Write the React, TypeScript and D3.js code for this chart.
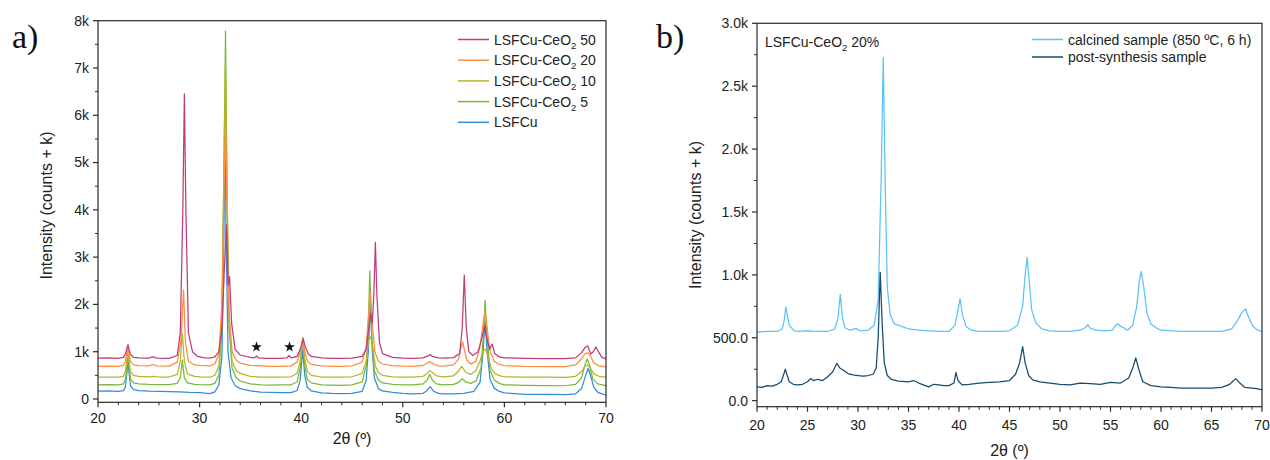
import React from "react";
import * as d3 from "d3";

type Pt = [number, number];

// ---------- Panel a data (2θ, counts + k) ----------
const lsfcu: Pt[] = [[20,165],[21,170],[22,160],[22.5,175],[22.7,260],[22.85,560],[22.95,850],[23.05,560],[23.2,280],[23.5,200],[24,175],[25,165],[26,160],[27,155],[28,150],[29,140],[30,135],[31,115],[31.5,150],[31.9,300],[32.2,900],[32.4,3500],[32.5,6100],[32.6,3500],[32.8,1000],[33.1,450],[33.5,280],[34,220],[35,170],[36,145],[37,140],[38,135],[39,135],[39.6,180],[39.9,400],[40.15,1040],[40.35,500],[40.6,250],[41,170],[42,130],[43,120],[44,115],[45,120],[46,160],[46.4,400],[46.6,1000],[46.8,2000],[47.0,1000],[47.2,450],[47.6,220],[48,170],[49,140],[50,120],[51,110],[52,120],[52.4,180],[52.7,260],[53,170],[53.5,120],[54,110],[55,110],[56,120],[57,160],[57.6,350],[57.9,1000],[58.1,1650],[58.3,1000],[58.6,400],[59,230],[59.5,160],[60,130],[62,100],[64,95],[66,90],[67,110],[67.6,220],[68.0,500],[68.25,650],[68.5,480],[68.8,250],[69.2,140],[70,80]];

const ceo2_5: Pt[] = [[20,300],[21,305],[22,300],[22.5,320],[22.7,420],[22.85,700],[22.95,950],[23.05,700],[23.2,420],[23.5,340],[24,320],[25,310],[26,305],[27,305],[27.8,330],[28.1,450],[28.3,820],[28.5,450],[28.8,340],[29.5,310],[30,305],[31,300],[31.5,330],[31.9,500],[32.2,1500],[32.4,5000],[32.55,7780],[32.7,4500],[32.9,1500],[33.2,650],[33.6,450],[34,380],[35,320],[36,300],[37,295],[38,300],[39,300],[39.6,360],[39.9,650],[40.15,1300],[40.35,700],[40.6,420],[41,340],[42,300],[43,295],[44,290],[45,300],[46,360],[46.4,700],[46.6,1500],[46.75,2710],[46.95,1300],[47.2,600],[47.6,400],[48,340],[49,310],[50,300],[51,300],[52,320],[52.4,400],[52.65,520],[52.9,400],[53.3,320],[54,300],[55,310],[55.5,350],[55.85,430],[56.2,360],[56.7,330],[57.2,380],[57.7,650],[57.95,1400],[58.1,2090],[58.3,1300],[58.6,600],[59,400],[59.5,330],[60,300],[62,290],[64,285],[66,280],[67,310],[67.6,450],[67.9,700],[68.15,850],[68.4,700],[68.7,420],[69.2,320],[70,280]];

const ceo2_10: Pt[] = [[20,460],[21,465],[22,460],[22.5,480],[22.7,580],[22.85,850],[22.95,1000],[23.05,820],[23.2,580],[23.5,500],[24,480],[25,470],[25.5,480],[26,465],[27,465],[27.8,520],[28.1,800],[28.3,1390],[28.5,800],[28.8,530],[29.5,480],[30,470],[31,460],[31.5,500],[31.9,700],[32.2,1800],[32.4,5000],[32.55,7100],[32.7,4500],[32.9,1700],[33.2,800],[33.6,600],[34,540],[35,480],[36,465],[37,460],[38,460],[39,470],[39.6,540],[39.9,800],[40.15,1300],[40.35,850],[40.6,580],[41,500],[42,465],[43,460],[44,460],[45,470],[46,540],[46.4,800],[46.65,1250],[46.85,1320],[47.05,1100],[47.3,700],[47.6,560],[48,500],[49,470],[50,460],[51,460],[52,480],[52.4,540],[52.65,600],[52.9,560],[53.3,490],[54,470],[55,490],[55.4,570],[55.8,690],[56.2,560],[56.7,520],[57.2,600],[57.6,800],[57.9,1020],[58.15,1050],[58.4,900],[58.7,650],[59.1,530],[59.6,490],[60,470],[62,460],[64,460],[66,455],[67,480],[67.6,580],[67.9,680],[68.2,720],[68.5,640],[68.8,530],[69.3,480],[70,460]];

const ceo2_20: Pt[] = [[20,690],[21,695],[22,690],[22.5,710],[22.7,800],[22.85,1000],[22.95,1100],[23.05,950],[23.2,790],[23.5,720],[24,705],[25,700],[25.4,730],[25.8,700],[27,695],[27.8,780],[28.15,1200],[28.42,2300],[28.6,1200],[28.9,800],[29.5,720],[30,710],[31,700],[31.5,740],[31.9,950],[32.2,2000],[32.4,4500],[32.55,5730],[32.7,4000],[32.9,1800],[33.2,1000],[33.6,820],[34,760],[35,710],[36,700],[37,690],[38,690],[39,700],[39.6,780],[39.9,1000],[40.15,1220],[40.35,1000],[40.6,800],[41,730],[42,700],[43,690],[44,690],[45,700],[46,780],[46.4,1100],[46.6,1700],[46.8,2270],[47.0,1600],[47.25,1000],[47.6,800],[48,740],[49,705],[50,695],[51,690],[52,710],[52.4,760],[52.7,790],[53,740],[53.5,700],[54,695],[55,720],[55.5,850],[55.75,1100],[55.9,1210],[56.05,1050],[56.3,820],[56.7,740],[57.2,800],[57.6,1100],[57.9,1600],[58.1,1850],[58.3,1500],[58.6,1000],[59,800],[59.5,730],[60,705],[62,690],[64,685],[66,685],[67,720],[67.6,850],[67.9,950],[68.2,980],[68.5,900],[68.8,760],[69.3,700],[70,680]];

const ceo2_50: Pt[] = [[20,865],[21,870],[22,860],[22.5,880],[22.7,950],[22.85,1080],[22.95,1150],[23.05,1060],[23.2,940],[23.5,880],[24,870],[25,865],[25.4,890],[25.8,865],[27,860],[27.8,920],[28.1,1400],[28.35,4000],[28.5,6450],[28.65,4000],[28.9,1400],[29.3,1000],[29.8,900],[30.5,870],[31,865],[31.5,890],[31.9,1000],[32.2,1500],[32.45,2800],[32.65,3680],[32.8,2400],[32.95,2590],[33.15,1600],[33.5,1050],[34,930],[35,880],[35.4,870],[35.6,910],[35.8,870],[36.5,860],[38,860],[38.6,870],[38.8,920],[39,870],[39.6,900],[39.9,1050],[40.2,1270],[40.4,1100],[40.7,950],[41,900],[42,870],[43,860],[44,860],[45,865],[46,900],[46.4,1050],[46.65,1500],[46.85,1810],[47.0,1600],[47.15,2200],[47.3,3310],[47.45,2200],[47.7,1200],[48,960],[49,880],[50,865],[51,860],[52,870],[52.5,910],[52.7,940],[52.9,900],[53.5,870],[54,865],[55,875],[55.6,960],[55.85,1500],[56.05,2620],[56.25,1500],[56.5,1000],[56.9,920],[57.4,1000],[57.8,1300],[58.05,1540],[58.3,1250],[58.55,1050],[58.8,1160],[59.05,960],[59.5,890],[60,870],[62,860],[64,855],[66,855],[67,870],[67.6,980],[67.95,1090],[68.2,1120],[68.5,950],[68.75,1000],[69.0,1100],[69.25,1000],[69.6,880],[70,850]];

const seriesA = [
  { name: "LSFCu-CeO", sub: "2", tail: " 50", color: "#c23b78", data: ceo2_50 },
  { name: "LSFCu-CeO", sub: "2", tail: " 20", color: "#ff8d3e", data: ceo2_20 },
  { name: "LSFCu-CeO", sub: "2", tail: " 10", color: "#b5b52b", data: ceo2_10 },
  { name: "LSFCu-CeO", sub: "2", tail: " 5", color: "#79b836", data: ceo2_5 },
  { name: "LSFCu", sub: "", tail: "", color: "#2f8fd5", data: lsfcu },
];
const drawOrderA = [4, 3, 2, 1, 0];

const starPositions: Pt[] = [[35.6, 1100], [38.85, 1100]];

const yTicksA = [0, 1000, 2000, 3000, 4000, 5000, 6000, 7000, 8000];
const yTickLabelsA = ["0", "1k", "2k", "3k", "4k", "5k", "6k", "7k", "8k"];
const xTicksA = [20, 30, 40, 50, 60, 70];

// ---------- Panel b data ----------
const calcined: Pt[] = [[20,545],[21,550],[22,550],[22.5,570],[22.7,640],[22.85,745],[23.0,680],[23.2,600],[23.6,560],[24,550],[25,555],[26,550],[27,550],[27.7,570],[28.0,650],[28.25,845],[28.45,660],[28.7,580],[29.2,560],[29.8,575],[30.2,555],[31,560],[31.6,600],[32.0,800],[32.3,1800],[32.5,2730],[32.7,1700],[32.9,900],[33.2,680],[33.6,610],[34,600],[35,570],[36,560],[37,555],[38,550],[39,550],[39.6,600],[39.9,720],[40.1,810],[40.35,680],[40.7,590],[41.2,560],[42,550],[43,550],[44,550],[45,555],[45.8,600],[46.3,750],[46.55,1000],[46.75,1140],[46.95,950],[47.2,720],[47.6,620],[48.2,570],[49,555],[50,550],[51,550],[52,560],[52.5,580],[52.75,605],[53,575],[53.6,560],[54.5,555],[55.2,560],[55.5,600],[55.75,610],[56.0,590],[56.3,580],[56.7,560],[57.2,600],[57.6,750],[57.85,950],[58.05,1025],[58.3,900],[58.6,700],[59,610],[59.6,575],[60,560],[62,550],[64,550],[66,550],[67,570],[67.6,640],[68.0,700],[68.35,730],[68.7,660],[69.1,590],[69.6,560],[70,550]];

const postSynthesis: Pt[] = [[20,110],[20.5,105],[21,120],[21.5,115],[22,130],[22.4,150],[22.65,210],[22.8,250],[22.95,210],[23.2,150],[23.6,130],[24,125],[24.5,130],[25,150],[25.3,175],[25.6,160],[26,170],[26.5,160],[27,190],[27.5,230],[27.9,295],[28.2,260],[28.6,240],[29,215],[29.5,205],[30,200],[30.5,195],[31,200],[31.5,210],[31.8,260],[32.0,500],[32.2,1020],[32.4,600],[32.6,300],[32.9,200],[33.3,170],[34,155],[35,150],[35.5,160],[36,140],[37,110],[37.5,130],[38,125],[38.5,120],[39,120],[39.5,140],[39.7,225],[39.9,160],[40.3,125],[41,130],[42,140],[43,145],[44,150],[45,160],[45.6,210],[46.0,300],[46.3,430],[46.55,300],[46.9,200],[47.3,165],[48,150],[49,140],[50,130],[51,125],[52,140],[53,135],[54,130],[55,145],[56,140],[56.8,180],[57.2,260],[57.5,340],[57.8,250],[58.2,150],[59,120],[60,110],[61,105],[62,100],[63,100],[64,100],[65,100],[66,105],[66.8,130],[67.4,175],[67.8,140],[68.3,105],[69,100],[69.5,95],[70,85]];

const seriesB = [
  { name: "calcined sample (850 ºC, 6 h)", color: "#5cc1fa", data: calcined },
  { name: "post-synthesis sample", color: "#144b6f", data: postSynthesis },
];

const yTicksB = [0, 500, 1000, 1500, 2000, 2500, 3000];
const yTickLabelsB = ["0.0", "500.0", "1.0k", "1.5k", "2.0k", "2.5k", "3.0k"];
const xTicksB = [20, 25, 30, 35, 40, 45, 50, 55, 60, 65, 70];

const FONT = "'Liberation Sans', Arial, Helvetica, sans-serif";
const AXIS = "#2b2b2b";

function range(a: number, b: number, step: number) {
  const out: number[] = [];
  for (let v = a; v <= b + 1e-9; v += step) out.push(+v.toFixed(6));
  return out;
}

export default function App() {
  const xa = d3.scaleLinear().domain([20, 70]).range([98, 606]);
  const ya = d3.scaleLinear().domain([-70, 8000]).range([402.3, 20.7]);
  const xb = d3.scaleLinear().domain([20, 70]).range([757, 1262]);
  const yb = d3.scaleLinear().domain([-48, 3000]).range([406.7, 23.3]);

  const lineA = d3.line<Pt>().x((d) => xa(d[0])).y((d) => ya(d[1]));
  const lineB = d3.line<Pt>().x((d) => xb(d[0])).y((d) => yb(d[1]));

  const starPath = d3.symbol().type(d3.symbolStar).size(36)() || "";

  const minorXA = range(20, 70, 2).filter((v) => v % 10 !== 0);
  const minorYA = range(500, 7500, 1000);
  const minorXB = range(20, 70, 1).filter((v) => v % 5 !== 0);
  const minorYB = range(250, 2750, 500);

  const [ax0, ax1] = xa.range();
  const [ay0, ay1] = ya.range();
  const [bx0, bx1] = xb.range();
  const [by0, by1] = yb.range();

  return (
    <svg
      width={1270}
      height={460}
      style={{ position: "absolute", left: 0, top: 0, background: "#fff" }}
      fontFamily={FONT}
    >
      <defs>
        <clipPath id="clipA">
          <rect x={ax0} y={ay1} width={ax1 - ax0} height={ay0 - ay1} />
        </clipPath>
        <clipPath id="clipB">
          <rect x={bx0} y={by1} width={bx1 - bx0} height={by0 - by1} />
        </clipPath>
      </defs>

      {/* ---------------- Panel a ---------------- */}
      <text x={12} y={48} fontFamily="'Liberation Serif', 'DejaVu Serif', serif" fontSize={34} fill="#111">a)</text>

      <g clipPath="url(#clipA)">
        {drawOrderA.map((i) => (
          <path key={i} d={lineA(seriesA[i].data) || ""} fill="none" stroke={seriesA[i].color} strokeWidth={1.25} strokeLinejoin="round" />
        ))}
      </g>

      {starPositions.map((p, i) => (
        <path key={i} d={starPath} transform={`translate(${xa(p[0])},${ya(p[1])})`} fill="#111" />
      ))}

      <rect x={ax0} y={ay1} width={ax1 - ax0} height={ay0 - ay1} fill="none" stroke={AXIS} strokeWidth={1.2} />
      {yTicksA.map((t, i) => (
        <g key={t}>
          <line x1={ax0 - 5} x2={ax0} y1={ya(t)} y2={ya(t)} stroke={AXIS} strokeWidth={1.2} />
          <text x={ax0 - 9} y={ya(t)} dy="0.35em" textAnchor="end" fontSize={14} fill="#222">{yTickLabelsA[i]}</text>
        </g>
      ))}
      {minorYA.map((t) => (
        <line key={t} x1={ax0 - 3} x2={ax0} y1={ya(t)} y2={ya(t)} stroke={AXIS} strokeWidth={1} />
      ))}
      {xTicksA.map((t) => (
        <g key={t}>
          <line x1={xa(t)} x2={xa(t)} y1={ay0} y2={ay0 + 5} stroke={AXIS} strokeWidth={1.2} />
          <text x={xa(t)} y={ay0 + 21} textAnchor="middle" fontSize={14} fill="#222">{t}</text>
        </g>
      ))}
      {minorXA.map((t) => (
        <line key={t} x1={xa(t)} x2={xa(t)} y1={ay0} y2={ay0 + 3} stroke={AXIS} strokeWidth={1} />
      ))}
      <text x={(ax0 + ax1) / 2} y={444} textAnchor="middle" fontSize={16} fill="#222">2θ (º)</text>
      <text transform={`translate(52,${(ay0 + ay1) / 2 - 6}) rotate(-90)`} textAnchor="middle" fontSize={16} fill="#222">Intensity (counts + k)</text>

      {seriesA.map((s, i) => {
        const y = 39.5 + i * 20.7;
        return (
          <g key={i}>
            <line x1={458} x2={489} y1={y} y2={y} stroke={s.color} strokeWidth={1.5} />
            <text x={494} y={y} dy="0.36em" fontSize={14} fill="#222">
              {s.name}
              {s.sub && <tspan fontSize={9.5} dy="4">{s.sub}</tspan>}
              {s.tail && <tspan dy={s.sub ? "-4" : "0"}>{s.tail}</tspan>}
            </text>
          </g>
        );
      })}

      {/* ---------------- Panel b ---------------- */}
      <text x={656} y={48} fontFamily="'Liberation Serif', 'DejaVu Serif', serif" fontSize={34} fill="#111">b)</text>

      <g clipPath="url(#clipB)">
        {seriesB.map((s, i) => (
          <path key={i} d={lineB(s.data) || ""} fill="none" stroke={s.color} strokeWidth={1.25} strokeLinejoin="round" />
        ))}
      </g>

      <rect x={bx0} y={by1} width={bx1 - bx0} height={by0 - by1} fill="none" stroke={AXIS} strokeWidth={1.2} />
      {yTicksB.map((t, i) => (
        <g key={t}>
          <line x1={bx0 - 5} x2={bx0} y1={yb(t)} y2={yb(t)} stroke={AXIS} strokeWidth={1.2} />
          <text x={bx0 - 9} y={yb(t)} dy="0.35em" textAnchor="end" fontSize={14} fill="#222">{yTickLabelsB[i]}</text>
        </g>
      ))}
      {minorYB.map((t) => (
        <line key={t} x1={bx0 - 3} x2={bx0} y1={yb(t)} y2={yb(t)} stroke={AXIS} strokeWidth={1} />
      ))}
      {xTicksB.map((t) => (
        <g key={t}>
          <line x1={xb(t)} x2={xb(t)} y1={by0} y2={by0 + 5} stroke={AXIS} strokeWidth={1.2} />
          <text x={xb(t)} y={by0 + 23} textAnchor="middle" fontSize={14} fill="#222">{t}</text>
        </g>
      ))}
      {minorXB.map((t) => (
        <line key={t} x1={xb(t)} x2={xb(t)} y1={by0} y2={by0 + 3} stroke={AXIS} strokeWidth={1} />
      ))}
      <text x={(bx0 + bx1) / 2} y={456} textAnchor="middle" fontSize={16} fill="#222">2θ (º)</text>
      <text transform={`translate(701,${(by0 + by1) / 2}) rotate(-90)`} textAnchor="middle" fontSize={16} fill="#222">Intensity (counts + k)</text>

      <text x={765} y={42} dy="0.36em" fontSize={14} fill="#222">
        LSFCu-CeO<tspan fontSize={9.5} dy="4">2</tspan><tspan dy="-4"> 20%</tspan>
      </text>

      {seriesB.map((s, i) => {
        const y = 39.5 + i * 17.5;
        return (
          <g key={i}>
            <line x1={1032} x2={1063} y1={y} y2={y} stroke={s.color} strokeWidth={1.5} />
            <text x={1068} y={y} dy="0.36em" fontSize={14} fill="#222">{s.name}</text>
          </g>
        );
      })}
    </svg>
  );
}
